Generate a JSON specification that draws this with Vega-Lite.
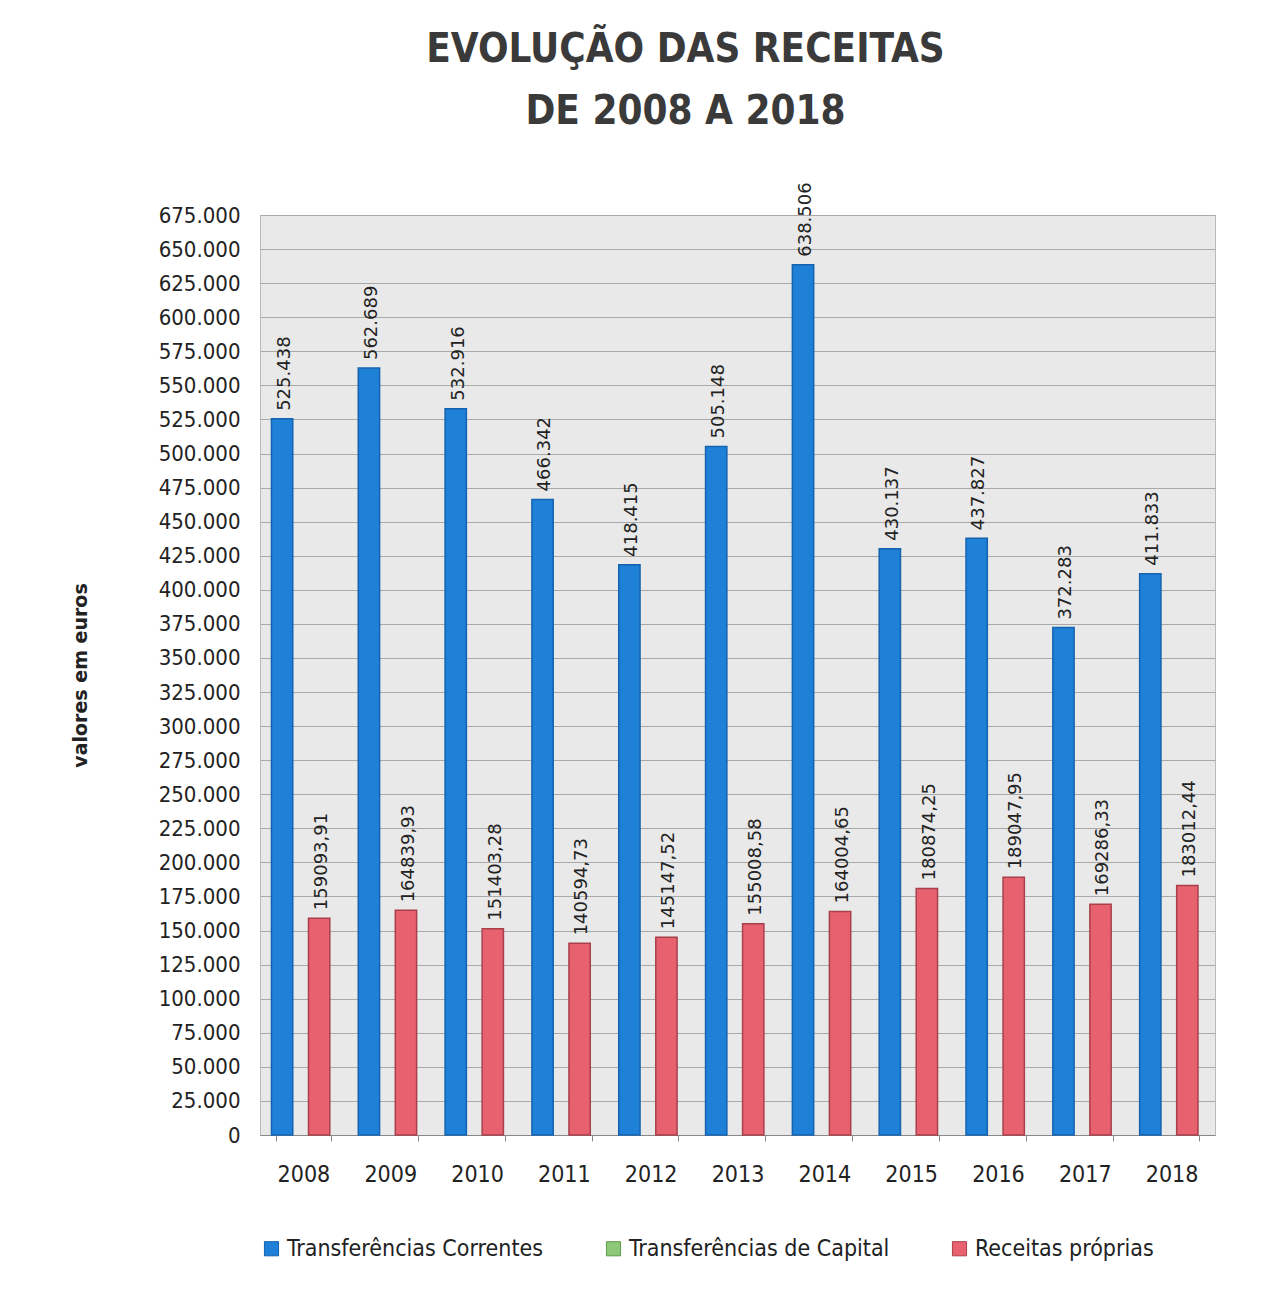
{
  "$schema": "https://vega.github.io/schema/vega-lite/v6.json",
  "width": 955,
  "height": 920,
  "padding": {"left": 71, "top": 30, "right": 70, "bottom": 40},
  "background": "white",
  "title": {
    "text": ["EVOLUÇÃO DAS RECEITAS", "DE 2008 A 2018"],
    "font": "DejaVu Sans Condensed, Open Sans, sans-serif",
    "fontSize": 40,
    "fontWeight": "bold",
    "color": "#3a3a3a",
    "lineHeight": 62,
    "anchor": "middle",
    "frame": "group",
    "dx": -52,
    "offset": 50
  },
  "data": {
    "values": [
      {"ano": "2008", "serie": "Transferências Correntes", "valor": 525438, "rotulo": "525.438"},
      {"ano": "2009", "serie": "Transferências Correntes", "valor": 562689, "rotulo": "562.689"},
      {"ano": "2010", "serie": "Transferências Correntes", "valor": 532916, "rotulo": "532.916"},
      {"ano": "2011", "serie": "Transferências Correntes", "valor": 466342, "rotulo": "466.342"},
      {"ano": "2012", "serie": "Transferências Correntes", "valor": 418415, "rotulo": "418.415"},
      {"ano": "2013", "serie": "Transferências Correntes", "valor": 505148, "rotulo": "505.148"},
      {"ano": "2014", "serie": "Transferências Correntes", "valor": 638506, "rotulo": "638.506"},
      {"ano": "2015", "serie": "Transferências Correntes", "valor": 430137, "rotulo": "430.137"},
      {"ano": "2016", "serie": "Transferências Correntes", "valor": 437827, "rotulo": "437.827"},
      {"ano": "2017", "serie": "Transferências Correntes", "valor": 372283, "rotulo": "372.283"},
      {"ano": "2018", "serie": "Transferências Correntes", "valor": 411833, "rotulo": "411.833"},
      {"ano": "2008", "serie": "Transferências de Capital", "valor": 0, "rotulo": ""},
      {"ano": "2009", "serie": "Transferências de Capital", "valor": 0, "rotulo": ""},
      {"ano": "2010", "serie": "Transferências de Capital", "valor": 0, "rotulo": ""},
      {"ano": "2011", "serie": "Transferências de Capital", "valor": 0, "rotulo": ""},
      {"ano": "2012", "serie": "Transferências de Capital", "valor": 0, "rotulo": ""},
      {"ano": "2013", "serie": "Transferências de Capital", "valor": 0, "rotulo": ""},
      {"ano": "2014", "serie": "Transferências de Capital", "valor": 0, "rotulo": ""},
      {"ano": "2015", "serie": "Transferências de Capital", "valor": 0, "rotulo": ""},
      {"ano": "2016", "serie": "Transferências de Capital", "valor": 0, "rotulo": ""},
      {"ano": "2017", "serie": "Transferências de Capital", "valor": 0, "rotulo": ""},
      {"ano": "2018", "serie": "Transferências de Capital", "valor": 0, "rotulo": ""},
      {"ano": "2008", "serie": "Receitas próprias", "valor": 159093.91, "rotulo": "159093,91"},
      {"ano": "2009", "serie": "Receitas próprias", "valor": 164839.93, "rotulo": "164839,93"},
      {"ano": "2010", "serie": "Receitas próprias", "valor": 151403.28, "rotulo": "151403,28"},
      {"ano": "2011", "serie": "Receitas próprias", "valor": 140594.73, "rotulo": "140594,73"},
      {"ano": "2012", "serie": "Receitas próprias", "valor": 145147.52, "rotulo": "145147,52"},
      {"ano": "2013", "serie": "Receitas próprias", "valor": 155008.58, "rotulo": "155008,58"},
      {"ano": "2014", "serie": "Receitas próprias", "valor": 164004.65, "rotulo": "164004,65"},
      {"ano": "2015", "serie": "Receitas próprias", "valor": 180874.25, "rotulo": "180874,25"},
      {"ano": "2016", "serie": "Receitas próprias", "valor": 189047.95, "rotulo": "189047,95"},
      {"ano": "2017", "serie": "Receitas próprias", "valor": 169286.33, "rotulo": "169286,33"},
      {"ano": "2018", "serie": "Receitas próprias", "valor": 183012.44, "rotulo": "183012,44"}
    ]
  },
  "encoding": {
    "x": {
      "field": "ano",
      "type": "nominal",
      "scale": {"paddingInner": 0.36, "paddingOuter": 0.18},
      "axis": {
        "title": null,
        "labelAngle": 0,
        "labelFont": "DejaVu Sans Condensed, Open Sans, sans-serif",
        "labelFontSize": 23,
        "labelColor": "#222",
        "labelPadding": 22,
        "tickBand": "extent",
        "tickColor": "#888",
        "tickSize": 6,
        "domainColor": "#888",
        "grid": false
      }
    },
    "xOffset": {
      "field": "serie",
      "type": "nominal",
      "scale": {
        "domain": ["Transferências Correntes", "Transferências de Capital", "Receitas próprias"],
        "paddingInner": 0,
        "paddingOuter": 0
      }
    },
    "y": {
      "field": "valor",
      "type": "quantitative",
      "scale": {"domain": [0, 675000], "nice": false},
      "axis": {
        "title": "valores em euros",
        "titleFont": "DejaVu Sans",
        "titleFontSize": 19,
        "titleFontWeight": "bold",
        "titleColor": "#222",
        "titlePadding": 68,
        "values": [0, 25000, 50000, 75000, 100000, 125000, 150000, 175000, 200000, 225000, 250000, 275000, 300000, 325000, 350000, 375000, 400000, 425000, 450000, 475000, 500000, 525000, 550000, 575000, 600000, 625000, 650000, 675000],
        "labelExpr": "join(split(format(datum.value, ','), ','), '.')",
        "labelFont": "DejaVu Sans Condensed, Open Sans, sans-serif",
        "labelFontSize": 22,
        "labelColor": "#222",
        "labelPadding": 20,
        "ticks": false,
        "domain": false,
        "gridColor": "#a9a9a9",
        "gridWidth": 1
      }
    }
  },
  "layer": [
    {
      "transform": [{"filter": "datum.valor > 0"}],
      "mark": {"type": "bar", "width": {"band": 1.15}, "strokeWidth": 1.5},
      "encoding": {
        "color": {
          "field": "serie",
          "type": "nominal",
          "scale": {
            "domain": ["Transferências Correntes", "Transferências de Capital", "Receitas próprias"],
            "range": ["#1f80d8", "#8cc878", "#e8616f"]
          },
          "legend": {
            "title": null,
            "orient": "bottom",
            "direction": "horizontal",
            "columns": 3,
            "columnPadding": 58,
            "symbolType": "square",
            "symbolSize": 200,
            "symbolStrokeWidth": 1,
            "labelFont": "DejaVu Sans Condensed, Open Sans, sans-serif",
            "labelFontSize": 23,
            "labelColor": "#222",
            "labelLimit": 400,
            "labelOffset": 4,
            "offset": 51
          }
        },
        "stroke": {
          "field": "serie",
          "type": "nominal",
          "scale": {
            "domain": ["Transferências Correntes", "Transferências de Capital", "Receitas próprias"],
            "range": ["#1463b0", "#5f9a4e", "#a8404c"]
          },
          "legend": null
        }
      }
    },
    {
      "transform": [{"filter": "datum.rotulo != ''"}],
      "mark": {
        "type": "text",
        "angle": -90,
        "align": "left",
        "baseline": "middle",
        "dx": 8,
        "font": "DejaVu Sans",
        "fontSize": 18,
        "color": "#222"
      },
      "encoding": {
        "text": {"field": "rotulo", "type": "nominal"}
      }
    }
  ],
  "config": {
    "view": {"fill": "#e9e9e9", "stroke": "#bbbbbb"}
  }
}
